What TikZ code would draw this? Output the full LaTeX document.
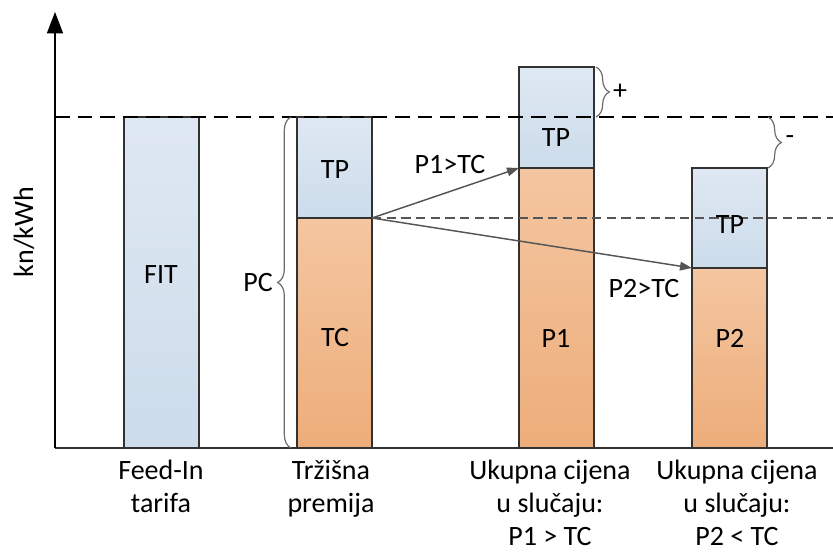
\documentclass[tikz,border=0pt]{standalone}
\usepackage{fontspec}
\setmainfont{Carlito}
\usetikzlibrary{arrows.meta,decorations.pathreplacing}
\definecolor{bluetop}{RGB}{223,232,242}
\definecolor{bluebot}{RGB}{204,220,235}
\definecolor{orangetop}{RGB}{244,198,161}
\definecolor{orangebot}{RGB}{237,173,122}
\definecolor{barline}{RGB}{50,50,50}
\definecolor{arrowgray}{RGB}{85,85,85}
\begin{document}
\begin{tikzpicture}[x=0.75pt,y=-0.75pt,
	lbl/.style={inner sep=0pt,font=\fontsize{21}{24.5}\selectfont},
	bluebar/.style={draw=barline,line width=1.1pt,top color=bluetop,bottom color=bluebot},
	orangebar/.style={draw=barline,line width=1.1pt,top color=orangetop,bottom color=orangebot},
	pricearrow/.style={draw=arrowgray,line width=1.1pt,-{Triangle[length=9pt,width=6.5pt]}},
	bracket/.style={draw=gray!85!black,line width=0.9pt,decorate,decoration={brace,amplitude=10pt}}]
	
	\useasboundingbox (0,0) rectangle (833,552);
	%bars
	\draw[bluebar] (124,117) rectangle (199,448);
	\draw[bluebar] (297,117) rectangle (372,218);
	\draw[orangebar] (297,218) rectangle (372,448);
	\draw[bluebar] (519,67) rectangle (594,168);
	\draw[orangebar] (519,168) rectangle (594,448);
	\draw[bluebar] (692,168) rectangle (767,268);
	\draw[orangebar] (692,268) rectangle (767,448);
	%axes
	\coordinate (origin) at (55,448);
	\coordinate (xend) at (833,448);
	\coordinate (yend) at (55,12);
	\draw[line width=1.1pt,color=barline] (origin) -- (xend);
	\draw[line width=1.1pt,-{Triangle[length=16pt,width=12pt]}] (origin) -- (yend);
	%levels
	\draw[line width=1.5pt,dash pattern=on 11pt off 6pt] (55,117) -- (833,117);
	\draw[line width=0.8pt,color=arrowgray,dash pattern=on 7pt off 4pt] (372,218) -- (833,218);
	%braces
	\draw[bracket] (291,448) -- (291,117);
	\draw[bracket] (596,67) -- (596,117);
	\draw[bracket] (768,117) -- (768,168);
	%arrows
	\coordinate (tcTop) at (372,218);
	\coordinate (pOneTop) at (519,168);
	\coordinate (pTwoTop) at (692,268);
	\draw[pricearrow] (tcTop) -- (pOneTop);
	\draw[pricearrow] (tcTop) -- (pTwoTop);
	%labels
	\node[lbl] (fit) at (161,275) {FIT};
	\node[lbl] (tpPrem) at (335,170) {TP};
	\node[lbl] (tcPrem) at (335,338) {TC};
	\node[lbl] (tpOne) at (556,138) {TP};
	\node[lbl] (pOne) at (556,338) {P1};
	\node[lbl] (tpTwo) at (730,225) {TP};
	\node[lbl] (pTwo) at (730,338) {P2};
	\node[lbl] (pc) at (258,283) {PC};
	\node[lbl] (plus) at (620,92) {+};
	\node[lbl] (minus) at (790,140) {-};
	\node[lbl] (gtOne) at (450,165) {P1>TC};
	\node[lbl] (gtTwo) at (644,289) {P2>TC};
	\node[lbl,rotate=90] (unit) at (24,232) {kn/kWh};
	\node[lbl,align=center,anchor=north] (feedin) at (161,460) {Feed-In\\tarifa};
	\node[lbl,align=center,anchor=north] (premija) at (331,460) {Tržišna\\premija};
	\node[lbl,align=center,anchor=north] (caseOne) at (550,460) {Ukupna cijena\\u slučaju:\\P1 > TC};
	\node[lbl,align=center,anchor=north] (caseTwo) at (737,460) {Ukupna cijena\\u slučaju:\\P2 < TC};
\end{tikzpicture}
\end{document}
